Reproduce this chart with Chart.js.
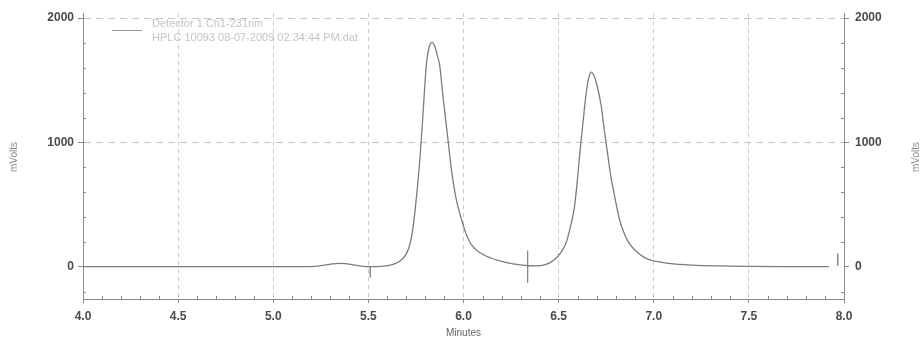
<!DOCTYPE html>
<html>
<head>
<meta charset="utf-8">
<title>Chromatogram</title>
<script src="https://cdn.jsdelivr.net/npm/chart.js@4/dist/chart.umd.min.js"></script>
<style>
  html, body { margin: 0; padding: 0; background: #fff; }
  #wrap { width: 922px; height: 341px; }
</style>
</head>
<body>
<div id="wrap"><canvas id="chrom" width="922" height="341"></canvas></div>
<script>
// retention time (min) / detector signal (mV)
const times = [4.00, 4.60, 5.00, 5.15, 5.22, 5.27, 5.31, 5.34, 5.38, 5.42, 5.46, 5.50, 5.55, 5.60,
  5.64, 5.67, 5.70, 5.72, 5.735, 5.75, 5.77, 5.787, 5.805, 5.82, 5.835, 5.85, 5.862, 5.875, 5.89,
  5.905, 5.919, 5.932, 5.945, 5.965, 5.988, 6.01, 6.04, 6.09, 6.14, 6.20, 6.26, 6.32, 6.38, 6.43,
  6.47, 6.51, 6.54, 6.565, 6.584, 6.60, 6.61, 6.628, 6.645, 6.66, 6.672, 6.685, 6.70, 6.724, 6.74,
  6.759, 6.775, 6.794, 6.82, 6.847, 6.875, 6.908, 6.95, 6.99, 7.08, 7.20, 7.35, 7.50, 7.70, 7.92];
const mVolts = [0, 0, 0, 0, 3, 12, 22, 27, 24, 14, 5, 0, 1, 8,
  25, 50, 105, 190, 320, 520, 850, 1227, 1628, 1770, 1805, 1770, 1700, 1620, 1400,
  1200, 1012, 840, 691, 520, 390, 280, 180, 110, 72, 42, 22, 10, 6, 16,
  48, 110, 195, 340, 490, 720, 892, 1159, 1400, 1530, 1566, 1540, 1470, 1293, 1100,
  892, 720, 570, 380, 260, 180, 125, 75, 50, 27, 13, 6, 3, 1, 0];

// integration event marks
const markerTimes = [5.51, 6.337, 7.967];
const markerTops = [0, 128, 105];
const markerBottoms = [-85, -128, 8];

const xTickLabels = ['4.0', '4.5', '5.0', '5.5', '6.0', '6.5', '7.0', '7.5', '8.0'];
const yTickValues = [0, 1000, 2000];
const legendLines = ['Detector 1 Ch1-231nm', 'HPLC 10093 08-07-2009 02:34:44 PM.dat'];

const FONT = '"Liberation Sans", Arial, sans-serif';
const traceColor = '#7c7c7c';

const datasets = [{
  label: legendLines[0],
  data: times.map((t, i) => ({ x: t, y: mVolts[i] })),
  borderColor: traceColor,
  borderWidth: 1.3,
  pointRadius: 0,
  cubicInterpolationMode: 'monotone',
  fill: false
}];
markerTimes.forEach((t, i) => {
  datasets.push({
    label: 'mark' + i,
    data: [{ x: t, y: markerTops[i] }, { x: t, y: markerBottoms[i] }],
    borderColor: '#8a8a8a',
    borderWidth: 1,
    pointRadius: 0
  });
});

// axis titles, legend and minor ticks
const decorPlugin = {
  id: 'decor',
  afterDraw(chart) {
    const { ctx, chartArea: a, scales: { x, y } } = chart;
    ctx.save();
    ctx.strokeStyle = '#888';
    ctx.lineWidth = 1;
    ctx.beginPath();
    for (let i = 41; i < 80; i++) {
      if (i % 5 === 0) continue;
      const px = Math.round(x.getPixelForValue(i / 10)) + 0.5;
      ctx.moveTo(px, a.bottom);
      ctx.lineTo(px, a.bottom - 3);
    }
    for (let v = -200; v <= 2000; v += 200) {
      if (v % 1000 === 0) continue;
      const py = Math.round(y.getPixelForValue(v)) + 0.5;
      ctx.moveTo(a.left, py); ctx.lineTo(a.left + 3, py);
      ctx.moveTo(a.right, py); ctx.lineTo(a.right - 3, py);
    }
    ctx.stroke();

    // axis titles
    ctx.fillStyle = '#8a8a8a';
    ctx.font = '10px ' + FONT;
    ctx.textAlign = 'center';
    ctx.textBaseline = 'middle';
    const midY = 157;
    [14, 916].forEach(cx => {
      ctx.save();
      ctx.translate(cx, midY);
      ctx.rotate(-Math.PI / 2);
      ctx.fillText('mVolts', 0, 0);
      ctx.restore();
    });
    ctx.fillStyle = '#666';
    ctx.fillText('Minutes', (a.left + a.right) / 2, 333);

    // legend
    ctx.strokeStyle = '#9a9a9a';
    ctx.beginPath();
    ctx.moveTo(112, 30.5);
    ctx.lineTo(142, 30.5);
    ctx.stroke();
    ctx.fillStyle = '#c4c4c4';
    ctx.font = '11px ' + FONT;
    ctx.textAlign = 'left';
    ctx.fillText(legendLines[0], 152, 24);
    ctx.fillText(legendLines[1], 152, 38);
    ctx.restore();
  }
};

const tickFont = { family: FONT, size: 12, weight: 'bold' };

function yAxis(position, width, onChart) {
  return {
    type: 'linear',
    position: position,
    min: -260,
    max: 2040,
    afterFit(scale) { scale.width = width; },
    afterBuildTicks(scale) { scale.ticks = yTickValues.map(v => ({ value: v })); },
    ticks: {
      color: '#4a4a4a',
      font: tickFont,
      padding: position === 'left' ? 4 : 6,
      callback: (v) => String(v)
    },
    grid: {
      drawOnChartArea: onChart,
      color: ctx => (ctx.tick && ctx.tick.value === 0) ? 'rgba(0,0,0,0)' : '#c4c4c4',
      tickColor: '#888',
      tickLength: 5,
      lineWidth: 1
    },
    border: { display: true, color: '#8c8c8c', width: 1, dash: [7, 5] }
  };
}

new Chart(document.getElementById('chrom'), {
  type: 'line',
  data: { datasets: datasets },
  plugins: [decorPlugin],
  options: {
    responsive: false,
    animation: false,
    devicePixelRatio: 1,
    layout: { padding: { top: 12, left: 0, right: 0, bottom: 0 } },
    plugins: { legend: { display: false }, tooltip: { enabled: false } },
    scales: {
      x: {
        type: 'linear',
        min: 4,
        max: 8,
        afterFit(scale) { scale.height = 42; },
        afterBuildTicks(scale) { scale.ticks = xTickLabels.map(s => ({ value: parseFloat(s) })); },
        ticks: {
          color: '#4a4a4a',
          font: tickFont,
          padding: 6,
          maxRotation: 0,
          callback: (v) => xTickLabels.find(s => parseFloat(s) === v) || ''
        },
        grid: {
          color: ctx => (ctx.tick && (ctx.tick.value === 4 || ctx.tick.value === 8)) ? 'rgba(0,0,0,0)' : '#c9c9c9',
          tickColor: '#888',
          tickLength: 4,
          lineWidth: 1
        },
        border: { display: true, color: '#8c8c8c', width: 1, dash: [4, 4] }
      },
      y: yAxis('left', 83, true),
      y2: yAxis('right', 78, false)
    }
  }
});
</script>
</body>
</html>
